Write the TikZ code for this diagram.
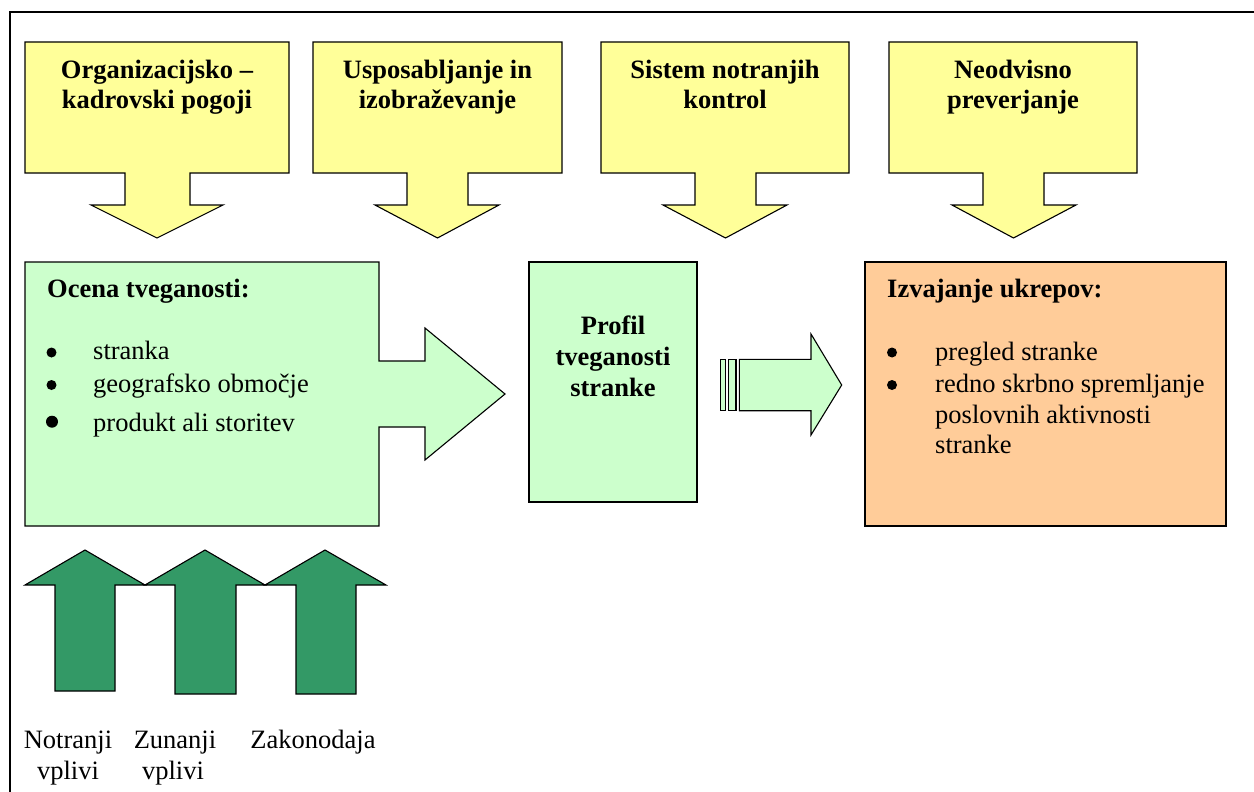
\documentclass[tikz,border=0pt]{standalone}
\usepackage{fontspec}
\setmainfont{Liberation Serif}
\newfontfamily\tnr{Liberation Serif}
\definecolor{yellowfill}{HTML}{FFFF99}
\definecolor{lightgreen}{HTML}{CCFFCC}
\definecolor{orangefill}{HTML}{FFCC99}
\definecolor{darkgreen}{HTML}{339966}
\begin{document}
\begin{tikzpicture}[x=1pt,y=-1pt,
  outline/.style={draw=black,line width=1.1pt,line join=miter},
  yshape/.style={outline,fill=yellowfill},
  gshape/.style={outline,fill=lightgreen},
  oshape/.style={outline,fill=orangefill},
  dshape/.style={outline,fill=darkgreen},
  txt/.style={inner sep=0pt,anchor=base,font=\tnr\fontsize{26.5}{31}\selectfont},
  btxt/.style={txt,font=\tnr\fontsize{26.5}{31}\selectfont\bfseries},
  ltxt/.style={txt,anchor=base west},
  lbtxt/.style={btxt,anchor=base west},
  bul/.style={circle,fill=black,inner sep=0pt,minimum size=10pt}
]
\useasboundingbox (0,0) rectangle (1254,792);
\draw[line width=2.2pt] (10,792) -- (10,12) -- (1254,12);

% yellow down arrows
\foreach \L/\R/\sl/\sr/\hl/\hr/\tp in {25/289/125/190/91/223/157, 313/562/407/468/375/499/437.5, 601/849/695/756/663/787/725.5, 889/1137/983/1044/952/1076/1013.5}{
  \draw[yshape] (\L,42) -- (\R,42) -- (\R,173) -- (\sr,173) -- (\sr,205) -- (\hr,205)
     -- (\tp,238) -- (\hl,205) -- (\sl,205) -- (\sl,173) -- (\L,173) -- cycle;
}
\node[btxt] (t1a) at (157,78) {Organizacijsko –};
\node[btxt] (t1b) at (157,108) {kadrovski pogoji};
\node[btxt] (t2a) at (437.5,78) {Usposabljanje in};
\node[btxt] (t2b) at (437.5,108) {izobraževanje};
\node[btxt] (t3a) at (725,78) {Sistem notranjih};
\node[btxt] (t3b) at (725,108) {kontrol};
\node[btxt] (t4a) at (1013,78) {Neodvisno};
\node[btxt] (t4b) at (1013,108) {preverjanje};

% risk assessment box with arrow
\draw[gshape] (25,262) -- (379,262) -- (379,361) -- (425,361) -- (425,328) -- (505,394)
   -- (425,460) -- (425,427) -- (379,427) -- (379,526) -- (25,526) -- cycle;
\node[lbtxt] (ocena) at (47,297) {Ocena tveganosti:};
\node[bul] (b1) at (51.5,352.5) {};
\node[bul] (b2) at (51.5,385) {};
\node[bul,minimum size=12pt] (b3) at (52,421.7) {};
\node[ltxt] (i1) at (93,359) {stranka};
\node[ltxt] (i2) at (93,392) {geografsko območje};
\node[ltxt] (i3) at (93,431) {produkt ali storitev};

% profile box
\draw[gshape] (529,262) rectangle (697,502);
\node[btxt] (p1) at (613,334) {Profil};
\node[btxt] (p2) at (613,365) {tveganosti};
\node[btxt] (p3) at (613,396) {stranke};

% striped arrow
\draw[gshape] (720.7,359.3) rectangle (725.3,410.7);
\draw[gshape] (728.3,359.3) rectangle (736,410.7);
\draw[gshape] (739.3,359.3) -- (811,359.3) -- (811,334) -- (841.7,385) -- (811,435)
   -- (811,410.7) -- (739.3,410.7) -- cycle;

% measures box
\draw[oshape] (865,262) rectangle (1226,526);
\node[lbtxt] (izv) at (887,297) {Izvajanje ukrepov:};
\node[bul] (c1) at (892,352.5) {};
\node[bul] (c2) at (892,385) {};
\node[ltxt] (j1) at (935,360) {pregled stranke};
\node[ltxt] (j2) at (935,392) {redno skrbno spremljanje};
\node[ltxt] (j3) at (935,423) {poslovnih aktivnosti};
\node[ltxt] (j4) at (935,453) {stranke};

% green up arrows
\foreach \hl/\tp/\hr/\sl/\sr/\b in {25/85/145/55/115/691, 145/205/265/175/236/694, 265/325/386/296/356/694}{
  \draw[dshape] (\sl,\b) -- (\sl,585) -- (\hl,585) -- (\tp,550) -- (\hr,585) -- (\sr,585) -- (\sr,\b) -- cycle;
}
\node[txt] (n1) at (68,748) {Notranji};
\node[txt] (n2) at (68,779) {vplivi};
\node[txt] (z1) at (175,748) {Zunanji};
\node[txt] (z2) at (173,779) {vplivi};
\node[txt] (zk) at (313,748) {Zakonodaja};
\end{tikzpicture}
\end{document}
